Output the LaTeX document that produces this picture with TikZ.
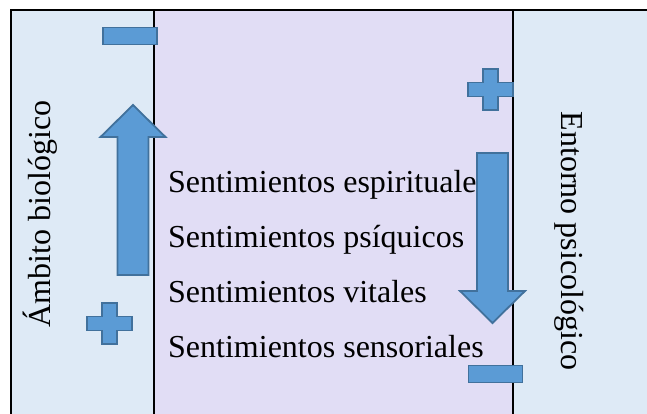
\documentclass[tikz,border=0pt]{standalone}
\usepackage{fontspec}
\newfontfamily\timesfont{LiberationSerif}[Extension=.ttf, UprightFont=*-Regular]
\usetikzlibrary{calc}
\definecolor{panelblue}{HTML}{DEEAF6}
\definecolor{panelviolet}{HTML}{E1DDF5}
\definecolor{signfill}{HTML}{5B9BD5}
\definecolor{signedge}{HTML}{41719C}
\def\shaft{15.5}
\def\head{32.5}
\tikzset{
    txt/.style = {
        inner sep=0pt, font=\timesfont\fontsize{32}{38}\selectfont
    },
    sign/.style = {
        fill=signfill, draw=signedge, line width=1.8pt, line join=miter
    },
    Plus/.pic = {
        \path[sign] (-7.5,-20.5) -- (7.5,-20.5) -- (7.5,-7) -- (22.5,-7) -- (22.5,7) -- (7.5,7)
            -- (7.5,20.5) -- (-7.5,20.5) -- (-7.5,7) -- (-22.5,7) -- (-22.5,-7) -- (-7.5,-7) -- cycle;
    },
    Minus/.pic = {
        \path[sign] (-27,-8.5) rectangle (27,8.5);
    },
    BigArrow/.pic = {
        \path[sign] (-\shaft,0) -- (-\shaft,-138) -- (-\head,-138) -- (0,-170)
            -- (\head,-138) -- (\shaft,-138) -- (\shaft,0) -- cycle;
    },
}

\begin{document}
\begin{tikzpicture}[x=1pt, y=-1pt]
        \useasboundingbox (0,0) rectangle (647,414);

        % Panels
        \coordinate (fl) at (11,10);
        \coordinate (dl) at (154,10);
        \coordinate (dr) at (513,10);
        \fill[panelblue] (fl) rectangle (154,414);
        \fill[panelviolet] (dl) rectangle (513,414);
        \fill[panelblue] (dr) rectangle (647,414);
        \draw[line width=2pt] (11,414) -- (fl) -- (647,10);
        \draw[line width=1.6pt] (dl) -- (154,414);
        \draw[line width=1.6pt] (dr) -- (513,414);

        % Texts
        \node[txt, rotate=90, anchor=base] (bio) at (50,214) {Ámbito biológico};
        \node[txt, rotate=-90, anchor=base] (psico) at (561,241) {Entorno psicológico};
        \node[txt, anchor=base west] (espi) at (168,192) {Sentimientos espirituale};
        \node[txt, anchor=base west] (psiq) at (168,247) {Sentimientos psíquicos};
        \node[txt, anchor=base west] (vita) at (168,302) {Sentimientos vitales};
        \node[txt, anchor=base west] (sens) at (168,357) {Sentimientos sensoriales};

        % Signs and arrows
        \pic (minusbio) at (130,36) {Minus};
        \pic (plusbio) at (109.5,323.5) {Plus};
        \pic (upbio) at (133,275) {BigArrow};
        \pic (pluspsico) at (490.5,89.5) {Plus};
        \pic (minuspsico) at (495.5,374) {Minus};
        \pic[rotate=180] (downpsico) at (492.5,153) {BigArrow};
\end{tikzpicture}
\end{document}
